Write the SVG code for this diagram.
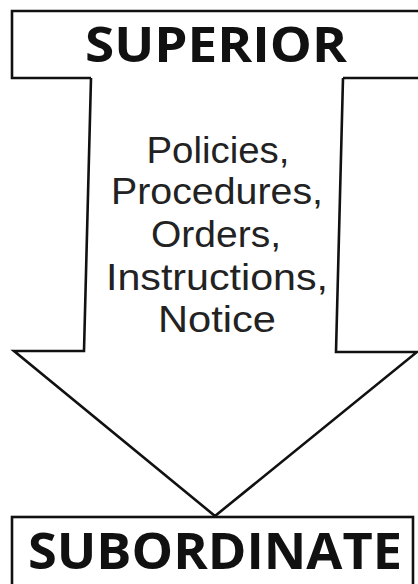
<svg xmlns="http://www.w3.org/2000/svg" width="418" height="584" viewBox="0 0 418 584">
<style>
.ln{fill:none;stroke:#111;stroke-width:2.6;stroke-linejoin:miter}
.hd{font-family:"Open Sans","Liberation Sans",sans-serif;font-weight:700;fill:#111;text-anchor:middle}
.bd{font-family:"Liberation Sans","Open Sans",sans-serif;font-weight:400;fill:#222;font-size:36px;text-anchor:middle}
</style>
<rect width="418" height="584" fill="#fff"/>
<g id="superior">
<path class="ln" d="M425,11 H12 V78 H91 M343,78 H425"/>
<text class="hd" x="216" y="62" font-size="49" textLength="262" lengthAdjust="spacingAndGlyphs">SUPERIOR</text>
</g>
<g id="connectors">
<path class="ln" d="M91,78 L84,351 H14 L215,516 L417,352 H336 L343,78"/>
<text class="bd" x="218" y="163" textLength="143" lengthAdjust="spacingAndGlyphs">Policies,</text>
<text class="bd" x="217" y="204" textLength="212" lengthAdjust="spacingAndGlyphs">Procedures,</text>
<text class="bd" x="216" y="247" textLength="130" lengthAdjust="spacingAndGlyphs">Orders,</text>
<text class="bd" x="217" y="290" textLength="222" lengthAdjust="spacingAndGlyphs">Instructions,</text>
<text class="bd" x="217" y="332" textLength="118" lengthAdjust="spacingAndGlyphs">Notice</text>
</g>
<g id="subordinate">
<rect class="ln" x="12" y="517" width="401" height="80"/>
<text class="hd" x="215" y="569" font-size="50" textLength="374" lengthAdjust="spacingAndGlyphs">SUBORDINATE</text>
</g>
</svg>
